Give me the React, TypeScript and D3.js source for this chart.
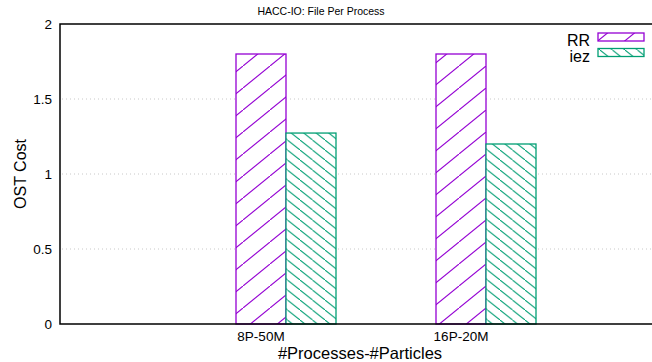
import React from "react";
import * as d3 from "d3";

// HACC-IO file-per-process OST cost
const categories = ["8P-50M", "16P-20M"];
const seriesNames = ["RR", "iez"];
const rrValues = [1.8, 1.8];
const iezValues = [1.273, 1.2];
const yTicks = [0, 0.5, 1, 1.5, 2];

const W = 652, H = 362;
const margin = { top: 24, left: 60, bottom: 324, right: 686 };
const purple = "#9400d3";
const green = "#009e73";
const font = "'Liberation Sans', Arial, Helvetica, sans-serif";

export default function App() {
  const x = d3.scaleLinear().domain([-1.13, 2]).range([margin.left, margin.right]);
  const y = d3.scaleLinear().domain([0, 2]).range([margin.bottom, margin.top]);
  const bw = 0.25;

  const series = [
    { name: seriesNames[0], values: rrValues, color: purple, pat: "hatchRR", off: -bw },
    { name: seriesNames[1], values: iezValues, color: green, pat: "hatchIez", off: 0 },
  ];

  return (
    <svg width={W} height={H} style={{ position: "absolute", left: 0, top: 0, background: "#fff" }}>
      <defs>
        <pattern id="hatchRR" patternUnits="userSpaceOnUse" width={27} height={22}>
          <rect width={27} height={22} fill="#fff" />
          <path d="M-2.7,24.2 L29.7,-2.2" stroke={purple} strokeWidth={1.1} />
        </pattern>
        <pattern id="hatchIez" patternUnits="userSpaceOnUse" width={12.5} height={10}>
          <rect width={12.5} height={10} fill="#fff" />
          <path d="M-1.25,-1 L13.75,11" stroke={green} strokeWidth={1} />
        </pattern>
      </defs>

      <text x={321} y={15} textAnchor="middle" fontFamily={font} fontSize={10.5} fill="#000">
        HACC-IO: File Per Process
      </text>

      {/* grid */}
      {yTicks.filter(t => t > 0 && t < 2).map(t => (
        <line key={t} x1={margin.left + 2} x2={W} y1={y(t)} y2={y(t)}
          stroke="#c8c8c8" strokeWidth={1} strokeDasharray="1,3" />
      ))}

      {/* bars */}
      {series.map(s =>
        s.values.map((v, i) => (
          <rect key={s.name + i}
            x={x(i + s.off)} y={y(v)}
            width={x(bw) - x(0)} height={y(0) - y(v)}
            fill={`url(#${s.pat})`} stroke={s.color} strokeWidth={1.3} />
        ))
      )}

      {/* border */}
      <path d={`M${W + 5},${margin.top} H${margin.left} V${margin.bottom} H${W + 5}`}
        fill="none" stroke="#000" strokeWidth={1.5} />

      {/* y tick labels */}
      {yTicks.map(t => (
        <text key={t} x={52} y={y(t) + 5} textAnchor="end" fontFamily={font} fontSize={13.5} fill="#000">
          {t}
        </text>
      ))}

      {/* x tick labels */}
      {categories.map((c, i) => (
        <text key={c} x={x(i - bw / 2)} y={341} textAnchor="middle" fontFamily={font} fontSize={13.5} fill="#000">
          {c}
        </text>
      ))}

      <text x={360} y={359} textAnchor="middle" fontFamily={font} fontSize={16.5} fill="#000">
        #Processes-#Particles
      </text>
      <text transform={`translate(26,${(margin.top + margin.bottom) / 2}) rotate(-90)`}
        textAnchor="middle" fontFamily={font} fontSize={16} fill="#000">
        OST Cost
      </text>

      {/* legend */}
      {series.map((s, i) => (
        <g key={s.name}>
          <text x={590} y={46 + i * 16} textAnchor="end" fontFamily={font} fontSize={16} fill="#000">
            {s.name}
          </text>
          <rect x={598} y={33 + i * 15.5} width={46} height={8}
            fill={`url(#${s.pat})`} stroke={s.color} strokeWidth={1.3} />
        </g>
      ))}
    </svg>
  );
}
